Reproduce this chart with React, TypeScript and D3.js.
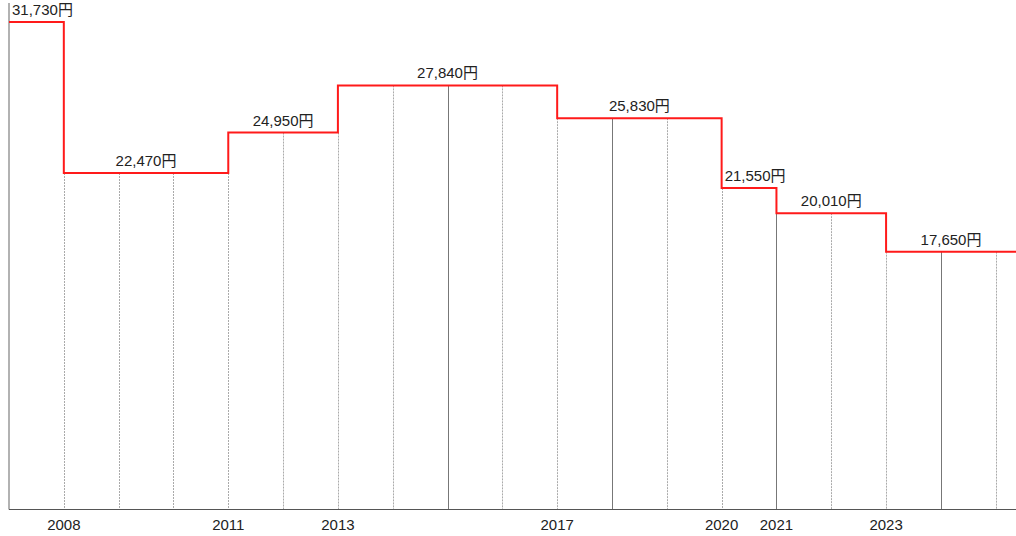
import React from "react";
import * as d3 from "d3";

// year each fee level starts, and the fee (yen)
const startYears = [2007, 2008, 2011, 2013, 2017, 2020, 2021, 2023];
const fees = [31730, 22470, 24950, 27840, 25830, 21550, 20010, 17650];
const tickYears = [2008, 2011, 2013, 2017, 2020, 2021, 2023];
const gridYears = d3.range(2008, 2026);

const W = 1016;
const H = 536;
const FONT = "'Liberation Sans', Arial, 'Noto Sans CJK JP', sans-serif";

const App = () => {
  const x = d3.scaleLinear().domain([2007, 2025.37]).range([9, W]);
  const y = d3.scaleLinear().domain([1850, 32000]).range([509.5, 17.5]);
  const bottom = y(1850);

  const steps = startYears.map((yr, i) => ({
    start: yr,
    end: i < startYears.length - 1 ? startYears[i + 1] : 2025.37,
    fee: fees[i],
  }));

  const pts: [number, number][] = steps.flatMap(s => [
    [s.start, s.fee],
    [s.end, s.fee],
  ]);
  const line = d3
    .line<[number, number]>()
    .x(d => x(d[0]))
    .y(d => y(d[1]));

  // fee level at a year (lower of the two where the step changes)
  const levelAt = (yr: number) => {
    const hits = steps.filter(s => yr >= s.start && yr <= s.end).map(s => s.fee);
    return d3.min(hits) ?? fees[fees.length - 1];
  };

  const fmt = d3.format(",");

  return (
    <div style={{ position: "absolute", left: 0, top: 0 }}>
      <svg width={W} height={H} style={{ display: "block", background: "#fff" }}>
        {/* grid lines */}
        {gridYears.map(yr => {
          const solid = yr >= 2015 && (yr - 2015) % 3 === 0;
          return (
            <line
              key={yr}
              x1={Math.round(x(yr)) + 0.5}
              x2={Math.round(x(yr)) + 0.5}
              y1={y(levelAt(yr))}
              y2={bottom}
              stroke={solid ? "#777" : "#aaa"}
              strokeWidth={1}
              strokeDasharray={solid ? undefined : "2,1"}
            />
          );
        })}

        {/* axes */}
        <line x1={9} x2={9} y1={3} y2={bottom} stroke="#999" strokeWidth={1.5} />
        <line x1={9} x2={W} y1={bottom} y2={bottom} stroke="#555" strokeWidth={1} />

        {/* step line */}
        <path d={line(pts) || ""} fill="none" stroke="#ff1a1a" strokeWidth={2} />

        {/* value labels */}
        {steps.map((s, i) => {
          const segW = x(s.end) - x(s.start);
          const narrow = segW < 70;
          return (
            <text
              key={i}
              x={narrow ? x(s.start) + 3 : (x(s.start) + x(s.end)) / 2}
              y={y(s.fee) - 7}
              textAnchor={narrow ? "start" : "middle"}
              fontFamily={FONT}
              fontSize={15}
              fill="#222"
            >
              {fmt(s.fee)}円
            </text>
          );
        })}

        {/* year labels */}
        {tickYears.map(yr => (
          <text
            key={yr}
            x={x(yr)}
            y={530}
            textAnchor="middle"
            fontFamily={FONT}
            fontSize={15}
            fill="#222"
          >
            {yr}
          </text>
        ))}
      </svg>
    </div>
  );
};

export default App;
